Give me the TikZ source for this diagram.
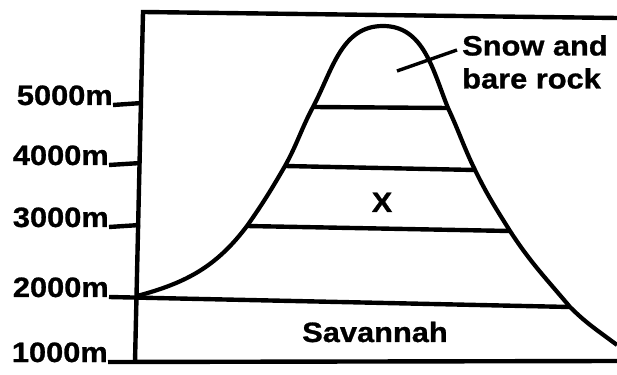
\documentclass[tikz,border=0pt]{standalone}
\usepackage{fontspec}
\setmainfont{Liberation Sans}
\newfontfamily\lblfont{Liberation Sans Bold}[FakeBold=0.9]

\begin{document}
\begin{tikzpicture}[
    x=1pt, y=1pt,
    lbl/.style={font=\fontsize{28}{33}\lblfont, inner sep=0pt, xscale=1.1},
    ln/.style={line width=4.4pt},
    slope/.style={line width=4.2pt, line join=round},
  ]
  \useasboundingbox (0,0) rectangle (617,374);

  \coordinate (axtop) at (143,362);
  \coordinate (axbot) at (135,12);
  \coordinate (topend) at (617,356);
  \coordinate (botend) at (617,13);
  \coordinate (a5) at (142,271);
  \coordinate (a4) at (141,211);
  \coordinate (a3) at (140,149);

  \coordinate (c2l) at (137,78);
  \coordinate (c2r) at (570,67);
  \coordinate (c3l) at (247,148);
  \coordinate (c3r) at (510,143);
  \coordinate (c4l) at (285,208);
  \coordinate (c4r) at (475,204);
  \coordinate (c5l) at (313,267);
  \coordinate (c5r) at (448,266);
  \coordinate (peak) at (383,348);
  \coordinate (foot) at (617,29);
  \coordinate (snowtip) at (397,303);

  \node[lbl, anchor=base east] (m5) at (113,269) {5000m};
  \node[lbl, anchor=base east] (m4) at (109,209) {4000m};
  \node[lbl, anchor=base east] (m3) at (109,147) {3000m};
  \node[lbl, anchor=base east] (m2) at (109,77) {2000m};
  \node[lbl, anchor=base east] (m1) at (108,12) {1000m};

  \node[lbl, anchor=north west, align=left] (snow) at (462,339) {Snow and\\bare rock};
  \node[lbl, anchor=base] (x) at (382,162) {X};
  \node[lbl, anchor=base west] (sav) at (302,32) {Savannah};

  % frame and ticks
  \draw[ln] (axbot) -- (axtop) -- (topend);
  \draw[ln] (m1.base east) -- (botend);
  \draw[ln] (m5.base east) -- (a5);
  \draw[ln] (m4.base east) -- (a4);
  \draw[ln] (m3.base east) -- (a3);
  \draw[ln] (m2.base east) -- (c2r);

  % vegetation belts
  \draw[ln] (c3l) -- (c3r);
  \draw[ln] (c4l) -- (c4r);
  \draw[ln] (c5l) -- (c5r);

  \draw[slope] (c2l) to[out=15, in=233] (c3l) to[out=55, in=240] (c4l)
    to[out=61, in=242] (c5l) to[out=62, in=180] (peak)
    to[out=0, in=112] (c5r) to[out=-65, in=116] (c4r)
    to[out=-64, in=122] (c3r) to[out=-57, in=130] (c2r)
    to[out=-45, in=143] (foot);

  \draw[line width=3.4pt] (snowtip) -- ([shift={(-5pt,-15pt)}]snow.north west);
\end{tikzpicture}
\end{document}
